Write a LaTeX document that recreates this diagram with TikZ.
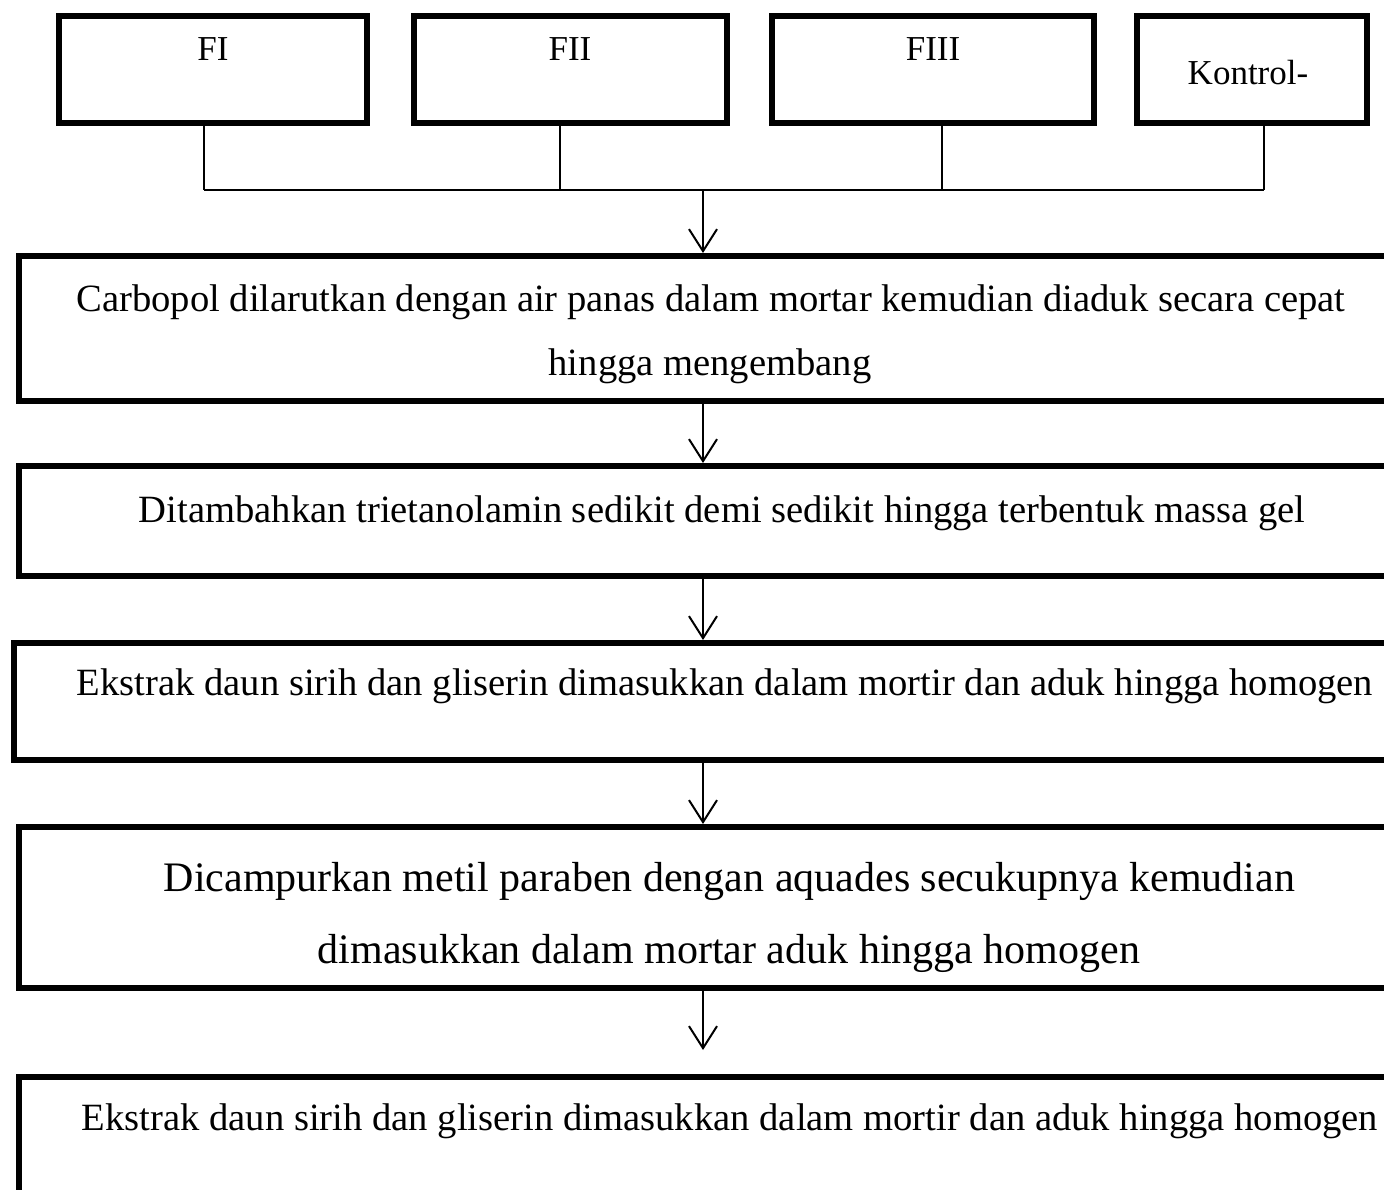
\documentclass[tikz,border=0pt]{standalone}
\usepackage{fontspec}
\setmainfont{Liberation Serif}
\usetikzlibrary{arrows.meta}
\begin{document}
\begin{tikzpicture}[x=1pt,y=-1pt,
  topbox/.style={draw, line width=6pt, minimum height=107pt, inner sep=0pt},
  bigbox/.style={draw, line width=6pt, minimum width=1420pt, inner sep=0pt},
  lbl/.style={anchor=base, inner sep=0pt, font=\fontsize{38.6}{40}\selectfont},
  lblbig/.style={anchor=base, inner sep=0pt, font=\fontsize{42}{44}\selectfont},
  toplbl/.style={anchor=base, inner sep=0pt, font=\fontsize{35}{37}\selectfont},
  link/.style={line width=2pt},
  arr/.style={line width=2pt, -{Straight Barb[length=22pt,width=28pt]}}]
\useasboundingbox (0,0) rectangle (1384,1190);
\clip (0,0) rectangle (1384,1190);
\fill[white] (0,0) rectangle (1384,1190);

% top boxes
\node[topbox, minimum width=308pt] (f1) at (213,69.5) {};
\node[topbox, minimum width=313pt] (f2) at (570.5,69.5) {};
\node[topbox, minimum width=322pt] (f3) at (933,69.5) {};
\node[topbox, minimum width=230pt] (k) at (1252,69.5) {};
\node[toplbl] (f1t) at (213,61) {FI};
\node[toplbl] (f2t) at (570,61) {FII};
\node[toplbl] (f3t) at (933,61) {FIII};
\node[toplbl] (kt) at (1248,85) {Kontrol-};

% junctions
\coordinate (j1) at (204,190);
\coordinate (j2) at (560,190);
\coordinate (j3) at (942,190);
\coordinate (j4) at (1264,190);
\coordinate (jm) at (703,190);
\draw[link] (j1 |- f1.south) -- (j1);
\draw[link] (j2 |- f2.south) -- (j2);
\draw[link] (j3 |- f3.south) -- (j3);
\draw[link] (j4 |- k.south) -- (j4);
\draw[link] (j1) -- (j4);

% big boxes
\node[bigbox, minimum height=145pt] (b1) at (729,328.5) {};
\node[bigbox, minimum height=110pt] (b2) at (729,521) {};
\node[bigbox, minimum height=117pt] (b3) at (724,701.5) {};
\node[bigbox, minimum height=161pt] (b4) at (729,907.5) {};
\node[bigbox, minimum height=183pt] (b5) at (729,1168.5) {};

\node[lbl] (t1a) at (711,312) {Carbopol dilarutkan dengan air panas dalam mortar kemudian diaduk secara cepat};
\node[lbl] (t1b) at (710,375) {hingga mengembang};
\node[lbl] (t2) at (722,522) {Ditambahkan trietanolamin sedikit demi sedikit hingga terbentuk massa gel};
\node[lbl] (t3) at (725,695) {Ekstrak daun sirih dan gliserin dimasukkan dalam mortir dan aduk hingga homogen};
\node[lblbig] (t4a) at (729.5,891) {Dicampurkan metil paraben dengan aquades secukupnya kemudian};
\node[lblbig] (t4b) at (729,963) {dimasukkan dalam mortar aduk hingga homogen};
\node[lbl] (t5) at (730,1130) {Ekstrak daun sirih dan gliserin dimasukkan dalam mortir dan aduk hingga homogen};

% arrows
\coordinate (e5) at (703,1050);
\draw[arr] (jm) -- (jm |- b1.north);
\draw[arr] (jm |- b1.south) -- (jm |- b2.north);
\draw[arr] (jm |- b2.south) -- (jm |- b3.north);
\draw[arr] (jm |- b3.south) -- (jm |- b4.north);
\draw[arr] (jm |- b4.south) -- (e5);
\end{tikzpicture}
\end{document}
